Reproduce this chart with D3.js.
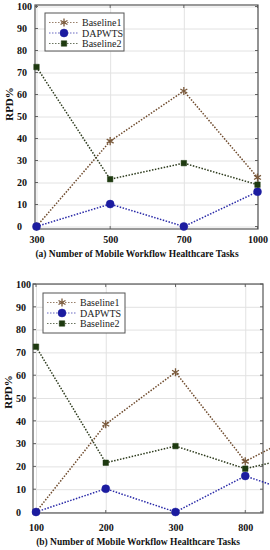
<!DOCTYPE html>
<html>
<head>
<meta charset="utf-8">
<script src="https://cdn.jsdelivr.net/npm/d3@7"></script>
<style>
  body { margin: 0; background: #fff; }
  svg { display: block; }
</style>
</head>
<body>
<div class="canvas"></div>
<script>
// values
const yTicks = [0, 10, 20, 30, 40, 50, 60, 70, 80, 90, 100];
const seriesNames = ['Baseline1', 'DAPWTS', 'Baseline2'];

const catsA = ['300', '500', '700', '1000'];
const baseline1A = [0, 38.8, 61.6, 22.3];
const dapwtsA = [0, 10.2, 0, 15.8];
const baseline2A = [72.5, 21.5, 28.8, 19];

// panel (b) has a fifth point that is cut off at the right edge
const catsB = ['100', '200', '300', '800', '1000'];
const baseline1B = [0, 38.5, 61.3, 22.2, 38];
const dapwtsB = [0, 10.2, 0, 15.8, 5.5];
const baseline2B = [72.5, 21.6, 28.9, 19, 26];

const font = '"Liberation Serif", "Times New Roman", serif';

const styles = {
    Baseline1: {line: '#6e4a2c', marker: '#7a5a3c', symbol: d3.symbolAsterisk, size: 45, stroke: true},
    DAPWTS: {line: '#2a2aa8', marker: '#1c1ca0', symbol: d3.symbolCircle, size: 50, stroke: false},
    Baseline2: {line: '#2c3a1c', marker: '#1e3a10', symbol: d3.symbolSquare, size: 30, stroke: false}
};

const svg = d3.select('.canvas')
    .append('svg')
    .attr('width', 270)
    .attr('height', 550);

const drawPanel = cfg => {
    const g = svg.append('g');

    const x = d3.scalePoint()
        .domain(cfg.cats)
        .range([cfg.xStart, cfg.xEnd]);

    const y = d3.scaleLinear()
        .domain([0, 100])
        .range([cfg.y0, cfg.y100]);

    const inside = cfg.cats.filter(c => x(c) <= cfg.right + 1);

    // grid
    g.append('g')
        .attr('transform', `translate(${cfg.left}, 0)`)
        .call(d3.axisLeft(y).tickValues(yTicks).tickSize(-(cfg.right - cfg.left)).tickFormat(''))
        .call(a => a.select('.domain').remove())
        .selectAll('line').attr('stroke', '#e2e2e2');

    g.append('g')
        .attr('transform', `translate(0, ${cfg.bottom})`)
        .call(d3.axisBottom(x).tickValues(inside).tickSize(-(cfg.bottom - cfg.top)).tickFormat(''))
        .call(a => a.select('.domain').remove())
        .selectAll('line').attr('stroke', '#e2e2e2');

    // small inner ticks on every side
    [[cfg.left, 3], [cfg.right, -3]].forEach(([xx, len]) => {
        g.selectAll(null)
            .data(yTicks)
            .enter()
            .append('line')
            .attr('x1', xx).attr('x2', xx + len)
            .attr('y1', d => y(d)).attr('y2', d => y(d))
            .attr('stroke', '#666');
    });
    [[cfg.bottom, -3], [cfg.top, 3]].forEach(([yy, len]) => {
        g.selectAll(null)
            .data(inside)
            .enter()
            .append('line')
            .attr('x1', d => x(d)).attr('x2', d => x(d))
            .attr('y1', yy).attr('y2', yy + len)
            .attr('stroke', '#666');
    });

    // frame
    g.append('rect')
        .attr('x', cfg.left)
        .attr('y', cfg.top)
        .attr('width', cfg.right - cfg.left)
        .attr('height', cfg.bottom - cfg.top)
        .attr('fill', 'none')
        .attr('stroke', '#555')
        .attr('stroke-width', 1.2);

    // tick labels (left aligned like the picture)
    g.append('g')
        .attr('transform', `translate(${cfg.labelX}, 0)`)
        .call(d3.axisRight(y).tickValues(yTicks).tickSize(0).tickPadding(0))
        .call(a => a.select('.domain').remove())
        .selectAll('text')
        .attr('font-family', font)
        .attr('font-weight', 'bold')
        .attr('font-size', 10)
        .attr('fill', '#111');

    g.append('g')
        .attr('transform', `translate(0, ${cfg.tickY})`)
        .call(d3.axisBottom(x).tickValues(inside).tickSize(0).tickPadding(0))
        .call(a => a.select('.domain').remove())
        .selectAll('text')
        .attr('dy', 0)
        .attr('font-family', font)
        .attr('font-weight', 'bold')
        .attr('font-size', 10)
        .attr('fill', '#111');

    // lines and markers
    const line = d3.line()
        .x((d, i) => x(cfg.cats[i]))
        .y(d => y(d));

    seriesNames.forEach(name => {
        const st = styles[name];
        const values = cfg.series[name];

        g.append('path')
            .attr('d', line(values))
            .attr('fill', 'none')
            .attr('stroke', st.line)
            .attr('stroke-width', 1.5)
            .attr('stroke-dasharray', '1.5,1.5');

        g.selectAll(null)
            .data(values)
            .enter()
            .append('path')
            .attr('transform', (d, i) => `translate(${x(cfg.cats[i])}, ${y(d)})`)
            .attr('d', d3.symbol(st.symbol, st.size))
            .attr('fill', st.stroke ? 'none' : st.marker)
            .attr('stroke', st.marker)
            .attr('stroke-width', st.stroke ? 1.3 : 0.5);
    });

    // legend
    const lg = g.append('g')
        .attr('transform', `translate(${cfg.legend.x}, ${cfg.legend.y})`);

    lg.append('rect')
        .attr('width', cfg.legend.w)
        .attr('height', cfg.legend.h)
        .attr('fill', '#fff')
        .attr('stroke', '#555')
        .attr('stroke-width', 1);

    seriesNames.forEach((name, i) => {
        const st = styles[name];
        const ly = 9.5 + i * 10.5;

        lg.append('line')
            .attr('x1', 4).attr('x2', 33)
            .attr('y1', ly).attr('y2', ly)
            .attr('stroke', st.line)
            .attr('stroke-opacity', 0.7)
            .attr('stroke-width', 1.2)
            .attr('stroke-dasharray', '1.5,1.5');

        lg.append('path')
            .attr('transform', `translate(19, ${ly})`)
            .attr('d', d3.symbol(st.symbol, st.size))
            .attr('fill', st.stroke ? 'none' : st.marker)
            .attr('stroke', st.marker)
            .attr('stroke-width', st.stroke ? 1.3 : 0.5);

        lg.append('text')
            .attr('x', 37)
            .attr('y', ly + 3.5)
            .attr('font-family', font)
            .attr('font-size', 10)
            .attr('fill', '#222')
            .text(name);
    });

    // axis titles
    g.append('text')
        .attr('transform', `translate(${cfg.rpdX}, ${cfg.rpdY}) rotate(-90)`)
        .attr('text-anchor', 'middle')
        .attr('font-family', font)
        .attr('font-weight', 'bold')
        .attr('font-size', 11)
        .attr('fill', '#111')
        .text('RPD%');

    g.append('text')
        .attr('x', cfg.titleX)
        .attr('y', cfg.titleY)
        .attr('text-anchor', 'middle')
        .attr('font-family', font)
        .attr('font-weight', 'bold')
        .attr('font-size', 9.5)
        .attr('fill', '#111')
        .text(cfg.title);
};

drawPanel({
    cats: catsA,
    series: {Baseline1: baseline1A, DAPWTS: dapwtsA, Baseline2: baseline2A},
    left: 35, right: 258, top: 5, bottom: 229,
    xStart: 36.5, xEnd: 257.5, y0: 226.5, y100: 6.5,
    labelX: 17, tickY: 243, titleX: 137, titleY: 257, rpdX: 13, rpdY: 104,
    legend: {x: 45, y: 13, w: 79, h: 38},
    title: '(a) Number of Mobile Workflow Healthcare Tasks'
});

drawPanel({
    cats: catsB,
    series: {Baseline1: baseline1B, DAPWTS: dapwtsB, Baseline2: baseline2B},
    left: 33, right: 263, top: 284, bottom: 513,
    xStart: 36, xEnd: 315, y0: 512, y100: 284,
    labelX: 16, tickY: 531, titleX: 138, titleY: 545, rpdX: 12, rpdY: 392,
    legend: {x: 43, y: 293, w: 82, h: 40},
    title: '(b) Number of Mobile Workflow Healthcare Tasks'
});
</script>
</body>
</html>
